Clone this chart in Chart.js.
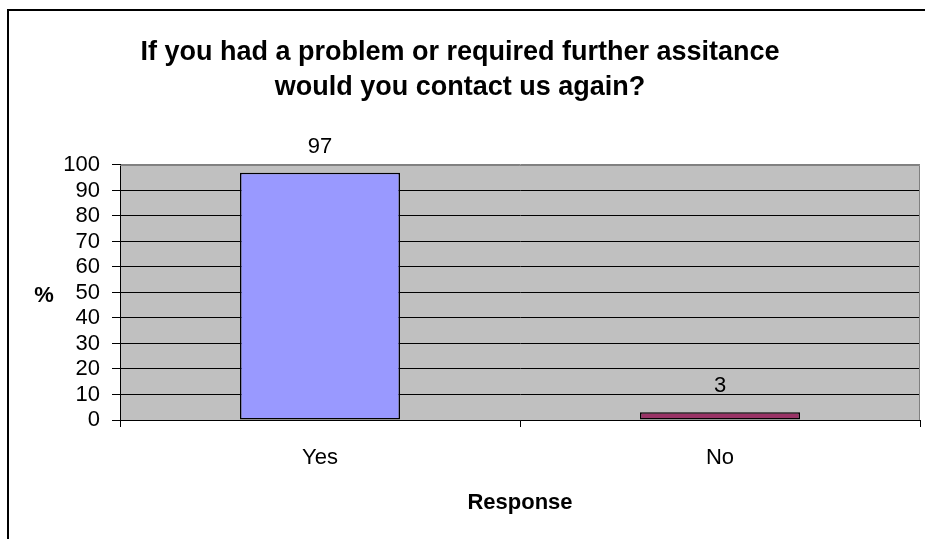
<!DOCTYPE html>
<html>
<head>
<meta charset="utf-8">
<script src="https://cdn.jsdelivr.net/npm/chart.js@4"></script>
<style>
  html, body { margin: 0; padding: 0; background: #fff; }
</style>
</head>
<body>
<canvas id="chart" width="925" height="539"></canvas>
<script>
// chart data
const categories = ['Yes', 'No'];
const percents   = [97, 3];
const barColors  = ['#9999FF', '#993366'];
const titleLines = ['If you had a problem or required further assitance', 'would you contact us again?'];
const yTitle     = '%';
const xTitle     = 'Response';

const FONT = "'Liberation Sans', Arial, sans-serif";

// grey plot background + frame round the whole figure
const frame = {
  id: 'frame',
  beforeDraw(chart) {
    const { ctx, chartArea: a } = chart;
    ctx.save();
    ctx.fillStyle = '#C0C0C0';
    ctx.fillRect(a.left, a.top, a.right - a.left, a.bottom - a.top);
    ctx.restore();
  },
  afterDraw(chart) {
    const { ctx, chartArea: a } = chart;
    ctx.save();
    // grey top/right edge of plot
    ctx.strokeStyle = '#808080';
    ctx.lineWidth = 1;
    ctx.beginPath();
    ctx.moveTo(a.left, a.top + 0.5);
    ctx.lineTo(a.right - 0.5, a.top + 0.5);
    ctx.lineTo(a.right - 0.5, a.bottom);
    ctx.stroke();
    // outer border (top and left visible)
    ctx.strokeStyle = '#000';
    ctx.lineWidth = 2;
    ctx.beginPath();
    ctx.moveTo(8, 539);
    ctx.lineTo(8, 10);
    ctx.lineTo(925, 10);
    ctx.stroke();
    // y title, not rotated
    ctx.fillStyle = '#000';
    ctx.font = 'bold 22px ' + FONT;
    ctx.textAlign = 'center';
    ctx.textBaseline = 'middle';
    ctx.fillText(yTitle, 44, (a.top + a.bottom) / 2 + 3);
    ctx.restore();
  },
};

// value labels above bars
const valueLabels = {
  id: 'valueLabels',
  afterDatasetsDraw(chart) {
    const { ctx } = chart;
    const meta = chart.getDatasetMeta(0);
    ctx.save();
    ctx.fillStyle = '#000';
    ctx.font = '22px ' + FONT;
    ctx.textAlign = 'center';
    ctx.textBaseline = 'alphabetic';
    meta.data.forEach((bar, i) => {
      ctx.fillText(String(percents[i]), bar.x, bar.y - 20);
    });
    ctx.restore();
  },
};

new Chart(document.getElementById('chart'), {
  type: 'bar',
  data: {
    labels: categories,
    datasets: [{
      data:            percents,
      backgroundColor: barColors,
      borderColor:     '#000',
      borderWidth:     1.5,
      borderSkipped:   false,
      barPercentage:   0.4,
      categoryPercentage: 1,
    }],
  },
  options: {
    responsive: false,
    animation:  false,
    layout: { padding: { left: 0, right: 5, top: 0, bottom: 0 } },
    plugins: {
      legend:  { display: false },
      tooltip: { enabled: false },
      title: {
        display: true,
        text:    titleLines,
        color:   '#000',
        font:    { family: FONT, size: 27, weight: 'bold', lineHeight: 1.296 },
        padding: { top: 35, bottom: 60 },
      },
    },
    scales: {
      x: {
        offset: true,
        grid: {
          offset: true,
          drawOnChartArea: false,
          color: '#000',
          tickLength: 7,
        },
        border: { color: '#000', width: 1 },
        ticks: { color: '#000', font: { family: FONT, size: 22 }, padding: 18 },
        title: {
          display: true,
          text:    xTitle,
          color:   '#000',
          font:    { family: FONT, size: 22, weight: 'bold' },
          padding: { top: 0, bottom: 23 },
        },
        afterFit(scale) { scale.height = 119; },
      },
      y: {
        min: 0,
        max: 100,
        ticks: {
          stepSize: 10,
          autoSkip: false,
          color: '#000',
          font: { family: FONT, size: 22, lineHeight: 1 },
          padding: 12,
        },
        grid: {
          color: ctx => (ctx.tick && ctx.tick.value === 100 ? '#808080' : '#000'),
          tickColor: '#000',
          tickLength: 8,
        },
        border: { color: '#000', width: 1 },
        afterFit(scale) { scale.width = 120; },
      },
    },
  },
  plugins: [frame, valueLabels],
});
</script>
</body>
</html>
